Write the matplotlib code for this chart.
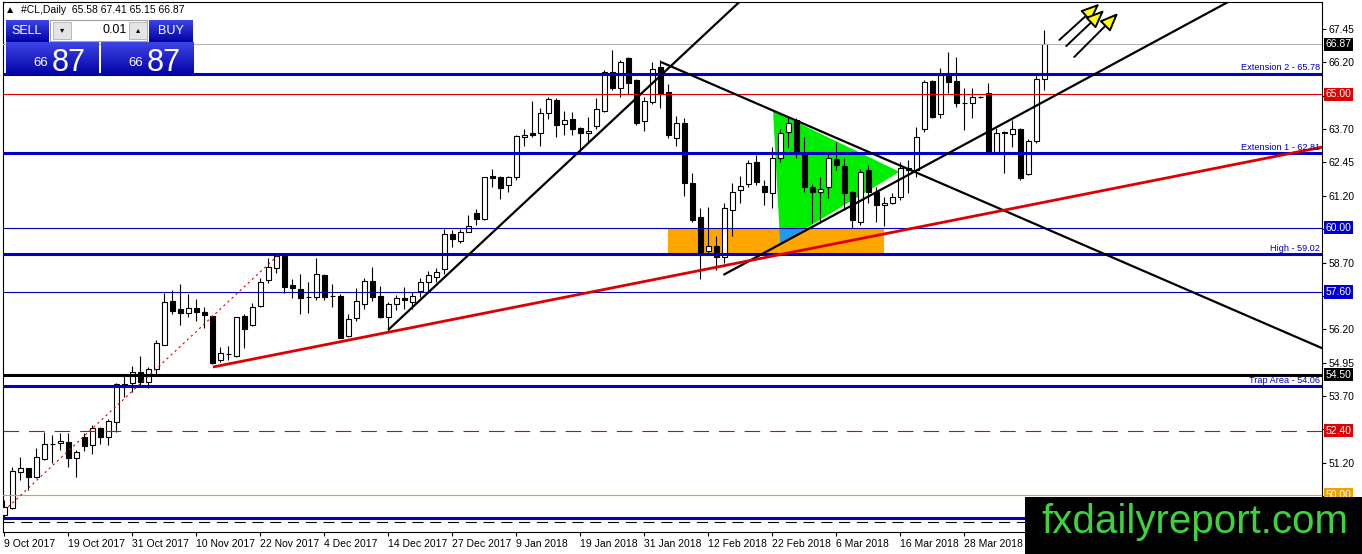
import numpy as np
import matplotlib
matplotlib.use('Agg')
import matplotlib.pyplot as plt
import matplotlib.transforms as mtrans
from matplotlib.patches import Rectangle, Polygon

plt.rcParams['font.family'] = ['Liberation Sans', 'DejaVu Sans']

# daily candles, #CL (bar index 0 = 9 Oct 2017)
opens = [49.25, 49.51, 50.86, 51.00, 50.67, 51.35, 51.89, 51.95, 51.98, 51.38,
         52.17, 51.87, 52.51, 52.17, 52.73, 54.15, 54.19, 54.60, 54.23, 54.72,
         55.62, 57.26, 56.96, 56.81, 57.00, 56.85, 56.70, 55.05, 55.28, 55.20,
         56.70, 56.36, 57.08, 58.05, 58.50, 58.95, 57.86, 57.71, 57.41, 57.41,
         58.24, 57.45, 57.45, 55.95, 56.63, 57.15, 58.01, 57.45, 56.66, 57.15,
         57.38, 57.23, 57.64, 57.98, 58.16, 58.46, 59.77, 59.51, 59.85, 60.56,
         60.34, 61.95, 61.91, 61.61, 61.91, 63.41, 63.56, 63.56, 64.30, 64.79,
         63.89, 64.08, 63.74, 63.56, 63.82, 64.38, 65.84, 65.24, 66.36, 65.54,
         64.00, 64.72, 66.03, 65.09, 63.37, 63.93, 61.68, 60.41, 59.14, 59.32,
         58.91, 60.67, 61.42, 61.65, 62.47, 61.57, 61.31, 62.62, 63.59, 64.04,
         62.81, 61.53, 61.35, 61.53, 62.58, 62.32, 61.35, 60.22, 62.17, 61.35,
         60.86, 60.93, 61.16, 62.24, 62.17, 63.71, 65.50, 64.26, 65.80, 65.50,
         64.68, 64.68, 64.90, 65.05, 62.84, 63.60, 63.52, 63.71, 62.02, 63.26,
         65.58]
highs = [49.81, 51.05, 51.42, 51.02, 51.76, 52.36, 52.24, 52.32, 52.32, 51.68,
         52.30, 52.62, 52.54, 52.84, 54.19, 54.49, 54.83, 55.20, 54.79, 55.80,
         57.56, 57.67, 57.90, 57.53, 57.34, 57.04, 56.72, 55.54, 55.58, 56.68,
         56.78, 57.19, 58.13, 58.87, 59.02, 59.02, 58.09, 58.27, 57.98, 58.87,
         58.26, 57.90, 57.53, 56.78, 57.75, 58.13, 58.54, 57.83, 57.23, 57.49,
         57.79, 57.60, 58.13, 58.39, 58.50, 59.96, 59.92, 59.96, 60.48, 60.71,
         61.91, 62.21, 61.93, 61.95, 63.48, 63.71, 64.75, 64.49, 64.90, 64.86,
         64.38, 64.34, 63.76, 64.15, 64.86, 65.91, 66.66, 66.29, 66.40, 65.56,
         64.90, 66.21, 66.29, 65.39, 64.19, 64.12, 62.06, 60.75, 60.78, 59.70,
         60.93, 61.68, 61.95, 62.54, 62.73, 61.80, 63.03, 63.71, 64.15, 64.12,
         63.41, 61.65, 61.91, 62.77, 63.22, 62.62, 61.37, 62.21, 62.36, 61.53,
         61.16, 61.31, 62.47, 62.54, 63.78, 65.54, 65.54, 66.00, 66.59, 66.40,
         65.24, 65.24, 64.93, 65.43, 63.74, 63.63, 64.04, 63.74, 63.33, 65.80,
         67.41]
lows = [49.18, 49.47, 50.56, 50.19, 50.65, 51.31, 51.20, 51.69, 51.05, 50.67,
        51.65, 51.53, 51.91, 51.87, 52.36, 53.67, 53.86, 54.12, 54.00, 54.49,
        55.60, 56.78, 56.36, 56.66, 56.51, 56.25, 54.90, 54.98, 55.05, 55.17,
        55.50, 56.33, 57.04, 57.94, 58.31, 57.56, 57.38, 56.78, 56.81, 57.30,
        57.30, 57.04, 55.88, 55.90, 56.51, 56.96, 57.26, 56.62, 56.10, 56.93,
        56.96, 56.96, 57.41, 57.56, 57.98, 58.28, 59.28, 59.43, 59.85, 60.11,
        60.30, 61.53, 61.08, 61.35, 61.80, 63.07, 63.41, 63.07, 64.08, 63.41,
        63.48, 63.48, 62.84, 63.22, 63.71, 64.34, 65.17, 64.90, 65.00, 63.85,
        63.63, 64.64, 64.49, 63.37, 63.07, 61.20, 60.22, 58.09, 59.00, 58.42,
        58.69, 59.70, 60.93, 61.53, 61.61, 60.86, 60.75, 62.47, 63.03, 62.62,
        61.35, 60.19, 60.19, 61.12, 62.17, 60.67, 60.00, 60.11, 60.93, 60.22,
        60.07, 60.90, 61.05, 61.31, 61.91, 63.59, 64.11, 64.11, 65.05, 64.53,
        63.67, 64.11, 64.87, 62.81, 62.80, 62.06, 63.03, 61.80, 61.98, 63.18,
        65.15]
closes = [49.55, 50.89, 51.01, 50.67, 51.42, 51.91, 51.91, 52.02, 51.38, 51.61,
          51.83, 52.51, 52.17, 52.77, 54.15, 54.04, 54.60, 54.23, 54.72, 55.69,
          57.23, 56.89, 56.81, 57.00, 56.85, 56.74, 54.94, 55.32, 55.28, 56.66,
          56.21, 57.04, 57.98, 58.54, 58.95, 57.79, 57.75, 57.38, 57.41, 58.27,
          57.41, 57.45, 55.88, 56.59, 57.26, 58.01, 57.41, 56.66, 57.15, 57.38,
          57.30, 57.45, 57.98, 58.24, 58.35, 59.77, 59.58, 59.85, 60.07, 60.34,
          61.91, 61.87, 61.50, 61.91, 63.44, 63.48, 63.48, 64.30, 64.83, 63.85,
          64.04, 63.71, 63.56, 63.63, 64.45, 65.84, 65.24, 66.21, 65.43, 63.93,
          64.75, 65.95, 65.02, 63.48, 63.93, 61.68, 60.30, 59.00, 59.32, 58.91,
          60.75, 61.35, 61.57, 62.43, 61.72, 61.35, 62.62, 63.56, 63.93, 62.84,
          61.53, 61.35, 61.46, 62.62, 62.36, 61.31, 60.30, 62.09, 61.35, 60.86,
          60.93, 61.16, 62.24, 62.17, 63.41, 65.47, 64.15, 65.73, 65.47, 64.68,
          64.68, 64.90, 64.91, 62.84, 63.56, 63.56, 63.71, 61.87, 63.26, 65.58,
          66.87]

date_labels = ['9 Oct 2017', '19 Oct 2017', '31 Oct 2017', '10 Nov 2017', '22 Nov 2017',
               '4 Dec 2017', '14 Dec 2017', '27 Dec 2017', '9 Jan 2018', '19 Jan 2018',
               '31 Jan 2018', '12 Feb 2018', '22 Feb 2018', '6 Mar 2018', '16 Mar 2018',
               '28 Mar 2018']
price_ticks = [49.95, 51.20, 52.45, 53.70, 54.95, 56.20, 57.45, 58.70, 59.95,
               61.20, 62.45, 63.70, 64.95, 66.20, 67.45]
# tick labels that sit under a price box are not visible
hidden_ticks = [49.95, 52.45, 57.45, 59.95, 64.95]

# horizontal levels: (price, colour, width, style)
levels = [(66.87, '#B4B4B4', 0.8, '-'), (65.78, '#0000C8', 2.2, '-'),
          (65.00, '#E00000', 0.8, '-'), (62.81, '#0000C8', 2.2, '-'),
          (60.00, '#0000B4', 0.8, '-'), (59.02, '#0000C8', 2.2, '-'),
          (57.60, '#0000B4', 0.8, '-'), (54.50, '#000000', 2.2, '-'),
          (54.06, '#0000C8', 2.2, '-'), (52.40, '#E00000', 0.8, (0, (14, 9))),
          (50.00, '#F0A000', 0.8, '-'), (49.14, '#0000C8', 2.2, '-'),
          (48.99, '#000000', 0.8, (0, (10, 6)))]
level_notes = [(65.78, 'Extension 2 - 65.78'), (62.81, 'Extension 1 - 62.81'),
               (59.02, 'High - 59.02'), (54.06, 'Trap Area - 54.06')]
price_boxes = [(66.87, '#000000'), (65.00, '#E00000'), (60.00, '#0000D0'),
               (57.60, '#0000D0'), (54.50, '#000000'), (52.40, '#E00000'),
               (50.00, '#F0A000')]

# trend lines: (bar0, price0, bar1, price1, colour, width, style)
trend_lines = [(48.0, 56.18, 96.0, 69.61, 'black', 1.6, '-'),
               (82.1, 66.21, 166.0, 55.33, 'black', 1.6, '-'),
               (89.9, 58.24, 156.0, 68.95, 'black', 1.6, '-'),
               (26.1, 54.79, 166.0, 63.10, '#DD0000', 2.0, '-'),
               (0.5, 49.55, 34.5, 59.05, '#DD0000', 0.8, (0, (2, 3)))]
orange_zone = (82.96, 109.96, 59.02, 60.00)
green_tri = [(96.1, 64.39), (96.89, 60.0), (100.3, 60.0), (111.9, 62.10)]
blue_tri = [(96.89, 60.0), (100.3, 60.0), (97.0, 59.4)]
arrows = [((131.9, 67.04), (136.9, 68.40)),
          ((132.75, 66.81), (137.5, 68.16)),
          ((133.75, 66.40), (139.25, 68.05))]

W, H = 1362, 554
fig = plt.figure(figsize=(W / 100, H / 100), dpi=100)
fig.patch.set_facecolor('white')


def fx(px):
    return px / W


def fy(py):
    return 1 - py / H


ax = fig.add_axes([fx(3), fy(532), fx(1322) - fx(3), (530) / H])
ax.set_xlim(-0.15, 164.72)
ax.set_ylim(48.61, 68.46)

n = len(opens)
idx = np.arange(n)
o = np.array(opens)
c = np.array(closes)

# background objects
ax.add_patch(Rectangle((orange_zone[0], orange_zone[2]), orange_zone[1] - orange_zone[0],
                       orange_zone[3] - orange_zone[2], fc='#FFA500', ec='none', zorder=1))
ax.add_patch(Polygon(green_tri, closed=True, fc='#00EE00', ec='none', zorder=1))
ax.add_patch(Polygon(blue_tri, closed=True, fc='#1E9BEA', ec='none', zorder=1))

# candles
ax.vlines(idx, lows, highs, color='black', lw=0.8, zorder=2)
bottoms = np.minimum(o, c)
heights = np.abs(c - o)
colors = ['white' if cc >= oo else 'black' for oo, cc in zip(o, c)]
ax.bar(idx, heights, bottom=bottoms, width=0.62, color=colors, edgecolor='black',
       linewidth=0.8, zorder=3)

for p, col, lw, ls in levels:
    ax.axhline(p, color=col, lw=lw, ls=ls, zorder=4)

for b0, p0, b1, p1, col, lw, ls in trend_lines:
    ax.plot([b0, b1], [p0, p1], color=col, lw=lw, ls=ls, zorder=5,
            solid_capstyle='butt')

for p, t in level_notes:
    ax.text(164.5, p + 0.04, t, ha='right', va='bottom', fontsize=6.6,
            color='#0000C8', zorder=6)

for tail, tip in arrows:
    ax.annotate('', xy=tip, xytext=tail, annotation_clip=False,
                arrowprops=dict(arrowstyle='-|>,head_length=0.8,head_width=0.33',
                                fc='#FFFF00', ec='black', lw=1.4,
                                mutation_scale=14, shrinkA=0, shrinkB=0), zorder=7)

# axes styling
for s in ax.spines.values():
    s.set_color('black')
    s.set_linewidth(0.8)
ax.yaxis.tick_right()
ax.set_yticks(price_ticks)
ax.set_yticklabels(['' if v in hidden_ticks else '%.2f' % v for v in price_ticks],
                   fontsize=7.5)
ax.tick_params(axis='y', length=3, width=0.8, pad=2)
ax.set_xticks(np.arange(len(date_labels)) * 8)
ax.set_xticklabels(date_labels, fontsize=7.5, ha='left')
ax.tick_params(axis='x', length=3, width=0.8, pad=2)

trans = mtrans.blended_transform_factory(ax.transAxes, ax.transData)
for p, col in price_boxes:
    ax.text(1.0025, p, '%.2f' % p, transform=trans, ha='left', va='center',
            fontsize=7.5, color='white', clip_on=False, zorder=20,
            bbox=dict(boxstyle='square,pad=0.15', fc=col, ec='none'))

# header and trade panel
fig.text(fx(5), fy(10), '\u25B2  #CL,Daily  65.58 67.41 65.15 66.87', fontsize=7.5,
         va='center', ha='left', zorder=10)


def blue_box(x0, y0, x1, y1, top=(0.24, 0.27, 0.90), bot=(0.0, 0.0, 0.64)):
    bx = fig.add_axes([fx(x0), fy(y1), fx(x1) - fx(x0), (y1 - y0) / H])
    g = np.linspace(0, 1, 64)[:, None, None]
    img = (1 - g) * np.array(top) + g * np.array(bot)
    bx.imshow(np.repeat(img, 2, axis=1), aspect='auto', extent=(0, 1, 0, 1))
    bx.set_axis_off()
    bx.set_zorder(5)


blue_box(6, 20, 49, 42)
blue_box(149, 20, 193, 42)
blue_box(6, 42, 99, 76)
blue_box(101, 42, 193, 76)
fig.add_artist(Rectangle((fx(50), fy(41)), fx(147) - fx(50), (21) / H,
                         transform=fig.transFigure, fc='white', ec='#A0A0A0', lw=0.8, zorder=6))
for bx0 in (53, 129):
    fig.add_artist(Rectangle((fx(bx0), fy(39)), fx(18), 17 / H, transform=fig.transFigure,
                             fc='#E4E4E4', ec='#B0B0B0', lw=0.6, zorder=7))
fig.text(fx(62), fy(30), '\u25BE', fontsize=6, ha='center', va='center',
         family='DejaVu Sans', zorder=10)
fig.text(fx(138), fy(30), '\u25B4', fontsize=6, ha='center', va='center',
         family='DejaVu Sans', zorder=10)
fig.text(fx(127), fy(30), '0.01', fontsize=9, ha='right', va='center', zorder=10)
fig.text(fx(27), fy(31), 'SELL', fontsize=9, ha='center', va='center', color='white', zorder=10)
fig.text(fx(171), fy(31), 'BUY', fontsize=9, ha='center', va='center', color='white', zorder=10)
for xs, xb in ((33, 52), (128, 147)):
    fig.text(fx(xs), fy(66), '66', fontsize=9.5, ha='left', va='baseline', color='white',
             zorder=10)
    fig.text(fx(xb), fy(71), '87', fontsize=22, ha='left', va='baseline', color='white',
             zorder=10)

# watermark banner
fig.add_artist(Rectangle((fx(1025), 0), fx(337), 57 / H, transform=fig.transFigure,
                         fc='black', ec='none', zorder=8))
fig.text(fx(1195), fy(522), 'fxdailyreport.com', fontsize=29, color='#3FD23F',
         ha='center', va='center', zorder=10)

fig.savefig('out.png', dpi=100)
